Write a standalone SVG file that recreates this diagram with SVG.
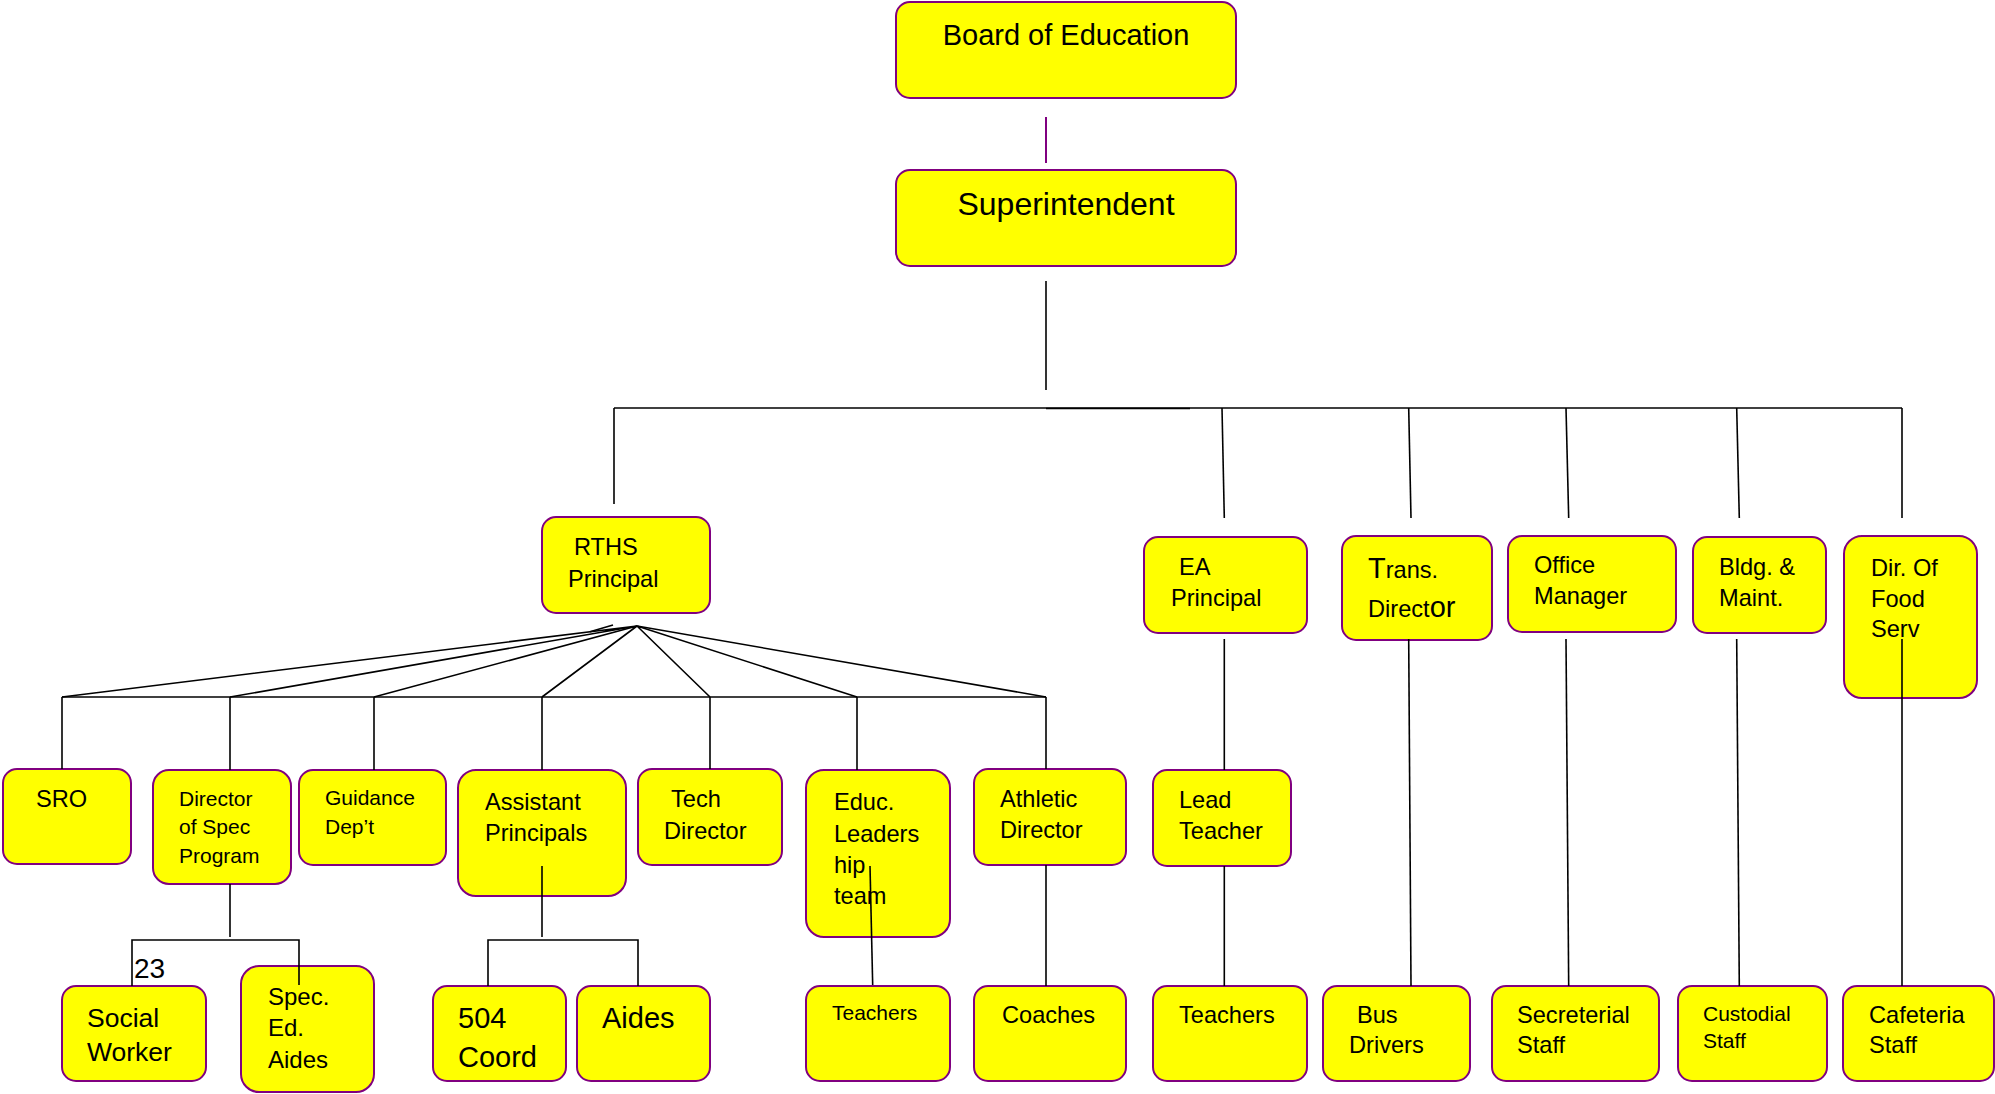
<svg xmlns="http://www.w3.org/2000/svg" width="1995" height="1094" viewBox="0 0 1995 1094">
<style>
.box{fill:#ffff00;stroke:#800080;stroke-width:2}
text{font-family:"Liberation Sans",Arial,sans-serif;fill:#000;font-size:23.6px}
.s21{font-size:21px}
.c{stroke:#000;stroke-width:1.6;fill:none}
.p{stroke:#800080;stroke-width:2;fill:none}
</style>
<rect width="1995" height="1094" fill="#fff"/>
<g id="board"><rect class="box" x="896" y="2" width="340" height="96" rx="14"/><text x="1066" y="45" text-anchor="middle" style="font-size:29px">Board of Education</text></g>
<g id="superintendent"><rect class="box" x="896" y="170" width="340" height="96" rx="14"/><text x="1066" y="215" text-anchor="middle" style="font-size:32px">Superintendent</text></g>
<g id="rths"><rect class="box" x="542" y="517" width="168" height="96" rx="14"/><text x="574" y="555">RTHS</text><text x="568" y="587">Principal</text></g>
<g id="ea"><rect class="box" x="1144" y="537" width="163" height="96" rx="14"/><text x="1179" y="575">EA</text><text x="1171" y="606">Principal</text></g>
<g id="trans"><rect class="box" x="1342" y="536" width="150" height="104" rx="14"/><text x="1368" y="578"><tspan style="font-size:29px">T</tspan>rans.</text><text x="1368" y="617">Direct<tspan style="font-size:29px">or</tspan></text></g>
<g id="office"><rect class="box" x="1508" y="536" width="168" height="96" rx="14"/><text x="1534" y="573">Office</text><text x="1534" y="604">Manager</text></g>
<g id="bldg"><rect class="box" x="1693" y="537" width="133" height="96" rx="14"/><text x="1719" y="575">Bldg. &amp;</text><text x="1719" y="606">Maint.</text></g>
<g id="food"><rect class="box" x="1844" y="536" width="133" height="162" rx="18"/><text x="1871" y="576">Dir. Of</text><text x="1871" y="607">Food</text><text x="1871" y="637">Serv</text></g>
<g id="sro"><rect class="box" x="3" y="769" width="128" height="95" rx="14"/><text x="36" y="807">SRO</text></g>
<g id="dirspec"><rect class="box" x="153" y="770" width="138" height="114" rx="16"/><text class="s21" x="179" y="806">Director</text><text class="s21" x="179" y="834">of Spec</text><text class="s21" x="179" y="863">Program</text></g>
<g id="guidance"><rect class="box" x="299" y="770" width="147" height="95" rx="14"/><text class="s21" x="325" y="805">Guidance</text><text class="s21" x="325" y="834">Dep’t</text></g>
<g id="assistant"><rect class="box" x="458" y="770" width="168" height="126" rx="18"/><text x="485" y="810">Assistant</text><text x="485" y="841">Principals</text></g>
<g id="tech"><rect class="box" x="638" y="769" width="144" height="96" rx="14"/><text x="671" y="807">Tech</text><text x="664" y="839">Director</text></g>
<g id="educ"><rect class="box" x="806" y="770" width="144" height="167" rx="18"/><text x="834" y="810">Educ.</text><text x="834" y="842">Leaders</text><text x="834" y="873">hip</text><text x="834" y="904">team</text></g>
<g id="athletic"><rect class="box" x="974" y="769" width="152" height="96" rx="14"/><text x="1000" y="807">Athletic</text><text x="1000" y="838">Director</text></g>
<g id="lead"><rect class="box" x="1153" y="770" width="138" height="96" rx="14"/><text x="1179" y="808">Lead</text><text x="1179" y="839">Teacher</text></g>
<g id="social"><rect class="box" x="62" y="986" width="144" height="95" rx="14"/><text x="87" y="1027" style="font-size:26.5px">Social</text><text x="87" y="1061" style="font-size:26.5px">Worker</text></g>
<g id="sped"><rect class="box" x="241" y="966" width="133" height="126" rx="18"/><text x="268" y="1005" style="font-size:24px">Spec.</text><text x="268" y="1036" style="font-size:24px">Ed.</text><text x="268" y="1068" style="font-size:24px">Aides</text></g>
<g id="c504"><rect class="box" x="433" y="986" width="133" height="95" rx="14"/><text x="458" y="1028" style="font-size:29px">504</text><text x="458" y="1067" style="font-size:29px">Coord</text></g>
<g id="aides"><rect class="box" x="577" y="986" width="133" height="95" rx="14"/><text x="602" y="1028" style="font-size:29px">Aides</text></g>
<g id="teachers1"><rect class="box" x="806" y="986" width="144" height="95" rx="14"/><text class="s21" x="832" y="1020">Teachers</text></g>
<g id="coaches"><rect class="box" x="974" y="986" width="152" height="95" rx="14"/><text x="1002" y="1023">Coaches</text></g>
<g id="teachers2"><rect class="box" x="1153" y="986" width="154" height="95" rx="14"/><text x="1179" y="1023">Teachers</text></g>
<g id="bus"><rect class="box" x="1323" y="986" width="147" height="95" rx="14"/><text x="1357" y="1023">Bus</text><text x="1349" y="1053">Drivers</text></g>
<g id="secreterial"><rect class="box" x="1492" y="986" width="167" height="95" rx="14"/><text x="1517" y="1023">Secreterial</text><text x="1517" y="1053">Staff</text></g>
<g id="custodial"><rect class="box" x="1678" y="986" width="149" height="95" rx="14"/><text class="s21" x="1703" y="1021">Custodial</text><text class="s21" x="1703" y="1048">Staff</text></g>
<g id="cafeteria"><rect class="box" x="1843" y="986" width="151" height="95" rx="14"/><text x="1869" y="1023">Cafeteria</text><text x="1869" y="1053">Staff</text></g>
<g id="label23"><text x="134" y="978" style="font-size:28px">23</text></g>
<g id="connectors">
<line class="p" x1="1046" y1="117" x2="1046" y2="163"/>
<line class="c" x1="1046" y1="281" x2="1046" y2="390"/>
<line class="c" x1="614" y1="408" x2="1902" y2="408"/>
<line class="c" x1="1046" y1="408.5" x2="1190" y2="408.5"/>
<line class="c" x1="614" y1="408" x2="614" y2="504"/>
<line class="c" x1="1222" y1="408" x2="1224.3" y2="518"/>
<line class="c" x1="1408.7" y1="408" x2="1411" y2="518"/>
<line class="c" x1="1566" y1="408" x2="1568.7" y2="518"/>
<line class="c" x1="1736.7" y1="408" x2="1739.3" y2="518"/>
<line class="c" x1="1902" y1="408" x2="1902" y2="518"/>
<polyline class="c" points="62,697 637,626 230,697"/>
<polyline class="c" points="374,697 637,626 542,697"/>
<polyline class="c" points="710,697 637,626 857,697"/>
<line class="c" x1="637" y1="626" x2="1046" y2="697"/>
<line class="c" x1="590" y1="631.8" x2="613" y2="625"/>
<line class="c" x1="62" y1="697" x2="1046" y2="697"/>
<line class="c" x1="62" y1="697" x2="62" y2="769"/>
<line class="c" x1="230" y1="697" x2="230" y2="770"/>
<line class="c" x1="374" y1="697" x2="374" y2="770"/>
<line class="c" x1="542" y1="697" x2="542" y2="770"/>
<line class="c" x1="710" y1="697" x2="710" y2="769"/>
<line class="c" x1="857" y1="697" x2="857" y2="770"/>
<line class="c" x1="1046" y1="697" x2="1046" y2="769"/>
<line class="c" x1="230" y1="884" x2="230" y2="937"/>
<polyline class="c" points="132,986 132,940 299,940 299,985"/>
<line class="c" x1="542" y1="866" x2="542" y2="937"/>
<polyline class="c" points="488,986 488,940 638,940 638,986"/>
<line class="c" x1="870" y1="866" x2="872.7" y2="985"/>
<line class="c" x1="1046" y1="865" x2="1046" y2="986"/>
<line class="c" x1="1224.3" y1="639" x2="1224.3" y2="770"/>
<line class="c" x1="1224.3" y1="866" x2="1224.3" y2="986"/>
<line class="c" x1="1408.7" y1="639" x2="1411" y2="986"/>
<line class="c" x1="1566" y1="639" x2="1568.7" y2="986"/>
<line class="c" x1="1736.7" y1="639" x2="1739.3" y2="986"/>
<line class="c" x1="1902" y1="639" x2="1902" y2="986"/>
</g>
</svg>
